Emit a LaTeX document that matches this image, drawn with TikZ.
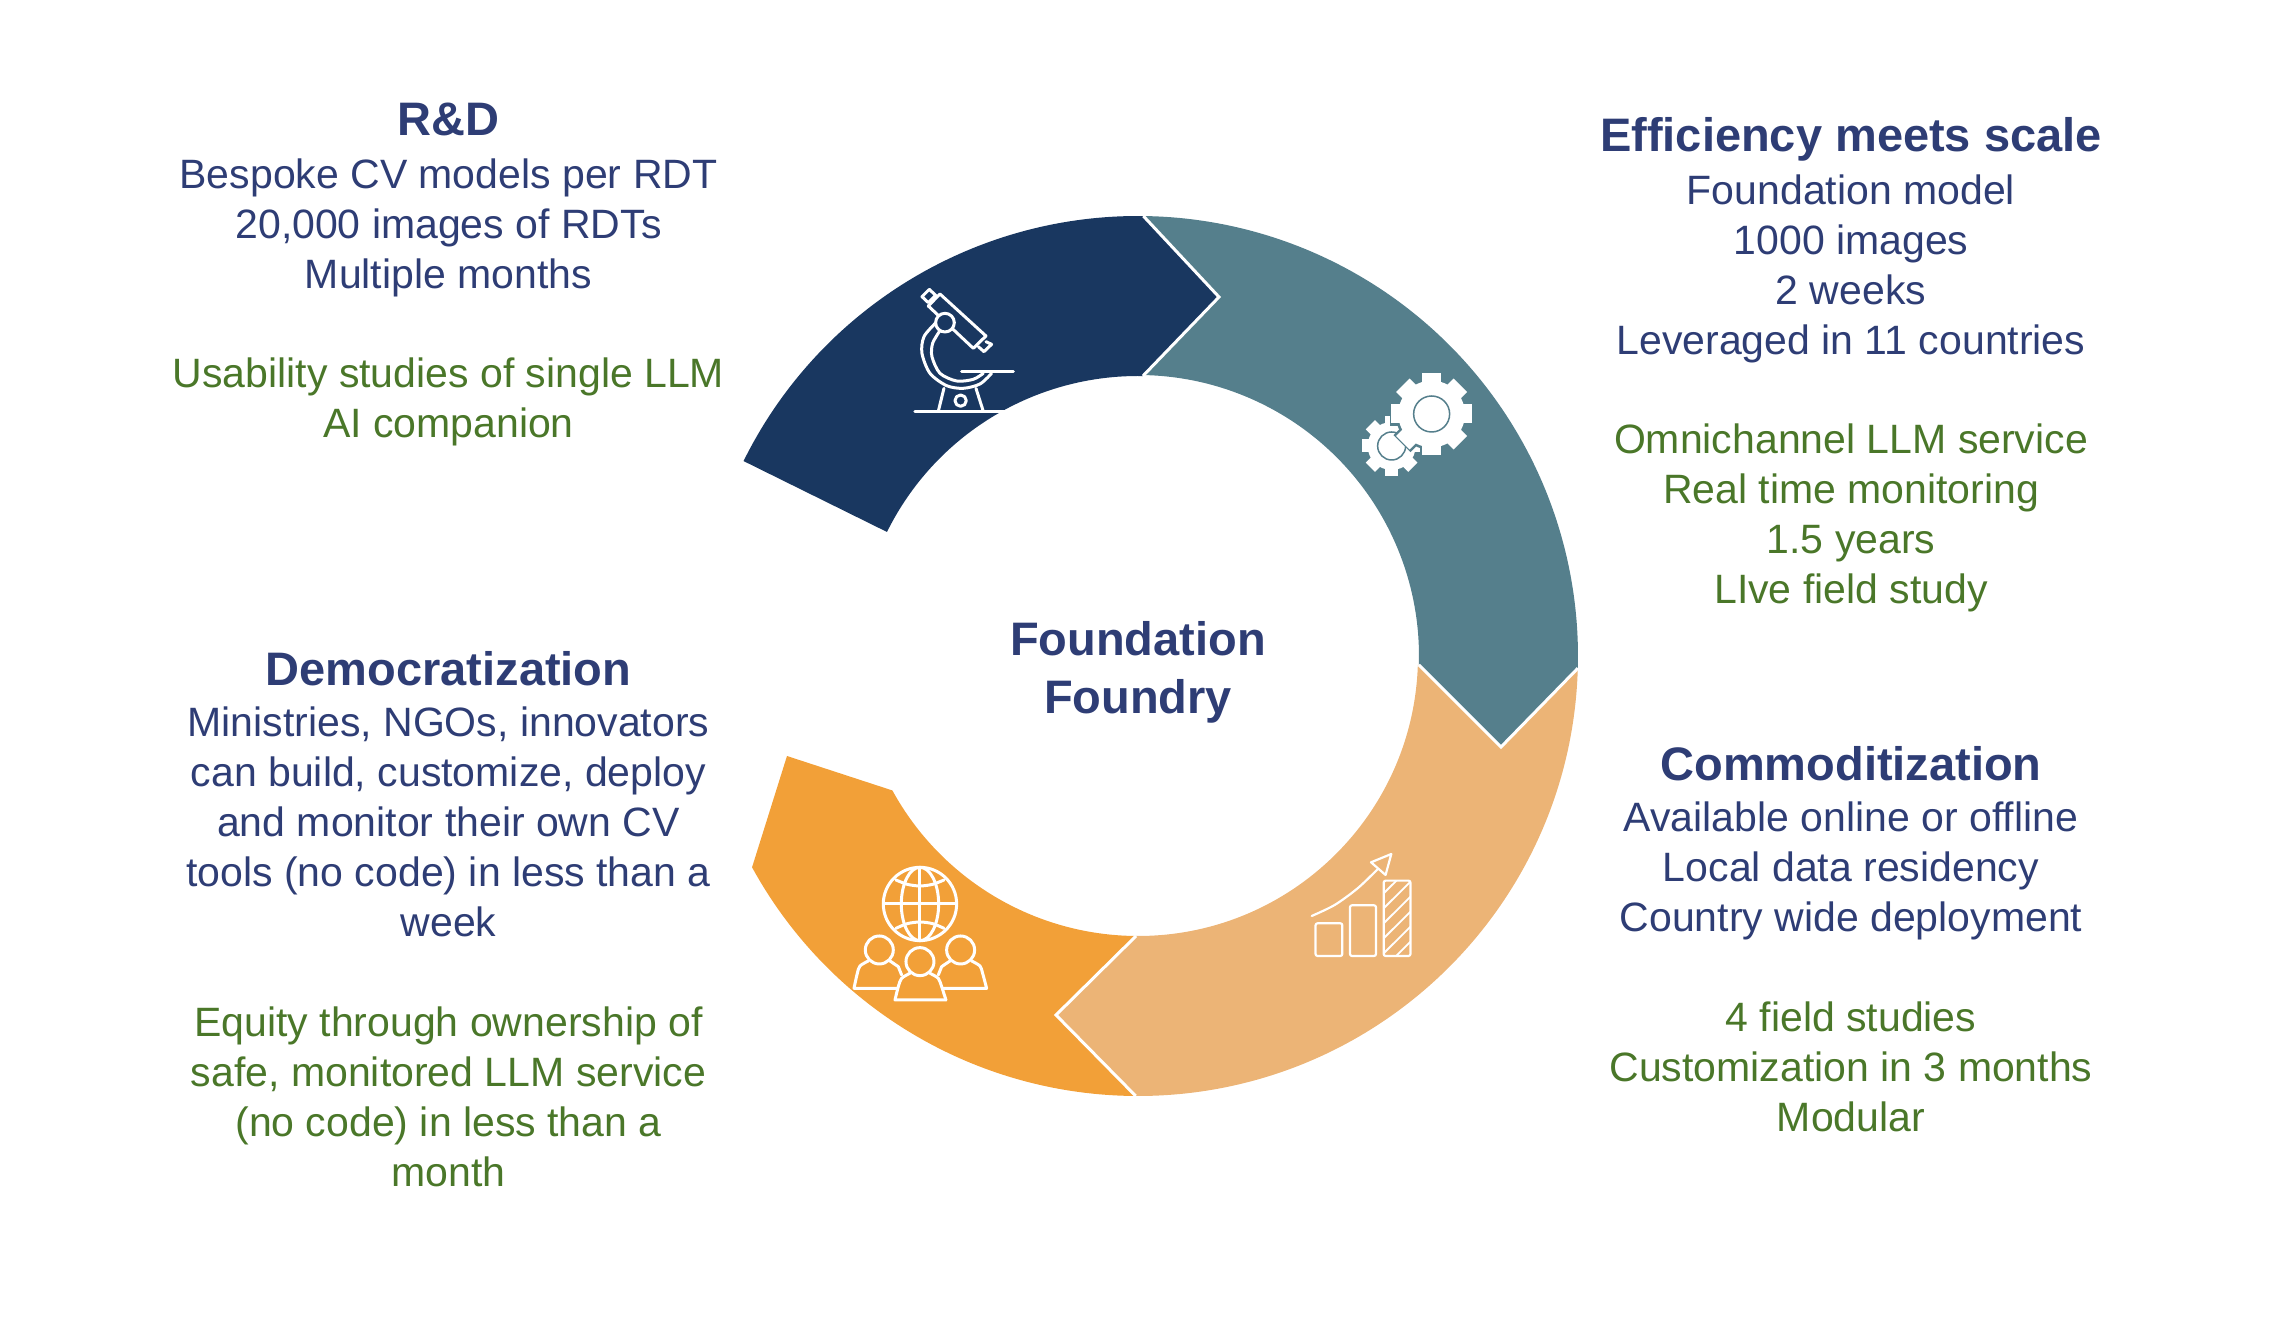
\documentclass[tikz,border=0pt]{standalone}
\usepackage{fontspec}
\setmainfont{Liberation Sans}
\definecolor{rdnavy}{HTML}{193760}
\definecolor{effteal}{HTML}{557F8C}
\definecolor{comsand}{HTML}{ECB476}
\definecolor{demorange}{HTML}{F2A038}
\definecolor{txtnavy}{HTML}{2E3D75}
\definecolor{txtgreen}{HTML}{4A7729}
\tikzset{
  headtxt/.style={font=\bfseries\fontsize{47}{58}\selectfont,text=txtnavy,align=center,inner sep=0pt},
  bodytxt/.style={font=\fontsize{41}{50}\selectfont,text=txtnavy,align=center,inner sep=0pt},
  resulttxt/.style={bodytxt,text=txtgreen},
  seam/.style={white,line width=3pt},
  iconline/.style={white,line width=3pt,line cap=round,line join=round},
}
\begin{document}
\begin{tikzpicture}[x=1pt,y=1pt]
  \useasboundingbox (-1138,-680) rectangle (1138,656);

  % ring
  \fill[rdnavy] (153.7:440) arc[start angle=153.7,end angle=89.3,radius=440pt] -- (81,359) -- (89:280)
    arc[start angle=89,end angle=153.7,radius=280pt] -- cycle;
  \fill[effteal] (89.3:440) arc[start angle=89.3,end angle=-1.6,radius=440pt] -- (363,-91) -- (-1.8:281)
    arc[start angle=-1.8,end angle=89,radius=281pt] -- (81,359) -- cycle;
  \fill[comsand] (-1.6:440) arc[start angle=-1.6,end angle=-90.3,radius=440pt] -- (-82,-359) -- (-90.4:280)
    arc[start angle=-90.4,end angle=-1.8,radius=280pt] -- (363,-91) -- cycle;
  \fill[demorange] (-90.3:440) arc[start angle=-90.3,end angle=-151.3,radius=440pt] -- (-351,-100) -- (-151.3:280)
    arc[start angle=-151.3,end angle=-90.4,radius=280pt] -- (-82,-359) -- cycle;
  \draw[seam] (89.3:440) -- (81,359) -- (89:280);
  \draw[seam] (-1.6:440) -- (363,-91) -- (-1.8:281);
  \draw[seam] (-90.3:440) -- (-82,-359) -- (-90.4:280);

  % microscope
  \begin{scope}[shift={(-418,456)},x=.3333pt,y=-.3333pt]
    \draw[iconline] (628,268) -- (606,290) -- (625,308) -- (647,286) -- cycle;
    \draw[iconline] (660,282) -- (798,408) -- (760,445) -- (625,318) -- cycle;
    \draw[iconline] (798,425) -- (815,433) -- (792,455) -- (775,440);
    \draw[iconline] plot[smooth] coordinates {(648,368) (612,410) (606,460) (630,520) (680,557) (730,565) (780,552) (815,520)};
    \draw[iconline] plot[smooth] coordinates {(660,392) (638,430) (636,470) (660,520) (710,543) (760,538) (790,520)};
    \fill[rdnavy] (675,368) circle (28);
    \draw[iconline] (675,368) circle (28);
    \draw[iconline] (725,515) -- (880,515);
    \draw[iconline] (672,565) -- (655,634);
    \draw[iconline] (768,565) -- (790,634);
    \draw[iconline] (585,636) -- (860,636);
    \draw[iconline] (722,602) circle (17);
  \end{scope}

  % gears
  \begin{scope}[shift={(112,316)},x=.3333pt,y=-.3333pt]
    \fill[white] (425,318) circle (72);
    \foreach \a in {0,45,...,315}{
      \draw[white,line width=13pt,line join=round] (425,318) -- ++(\a:90);
    }
    \draw[effteal,line width=1.5pt] (425,318) circle (42);
    \fill[effteal] (545,222) circle (108);
    \foreach \a in {0,45,...,315}{
      \draw[effteal,line width=24pt] (545,222) -- ++(\a:126);
    }
    \fill[white] (545,222) circle (100);
    \foreach \a in {0,45,...,315}{
      \draw[white,line width=19pt] (545,222) -- ++(\a:122);
    }
    \draw[effteal,line width=1.5pt] (545,222) circle (54);
  \end{scope}

  % chart
  \begin{scope}[shift={(-98,-4)},x=.3827pt,y=-.3333pt]
    \draw[iconline,line width=2.2pt,rounded corners=2pt] (720,790) rectangle (790,888);
    \draw[iconline,line width=2.2pt,rounded corners=2pt] (810,736) rectangle (878,888);
    \begin{scope}
      \clip (898,662) rectangle (968,888);
      \foreach \y in {700,745,...,960}{
        \draw[white,line width=1.8pt] (898,\y) -- (968,\y-80);
      }
    \end{scope}
    \draw[iconline,line width=2.2pt,rounded corners=2pt] (898,662) rectangle (968,888);
    \draw[iconline,line width=2.2pt] plot[smooth] coordinates {(710,768) (770,735) (830,685) (882,628)};
    \draw[iconline,line width=2.2pt] (865,607) -- (918,582) -- (903,645) -- cycle;
  \end{scope}

  % globe and people
  \begin{scope}[shift={(-408,-84)},x=.3333pt,y=-.3333pt]
    \draw[iconline] (570,492) circle (110);
    \draw[iconline] (570,492) ellipse (56 and 110);
    \draw[iconline] (570,382) -- (570,602);
    \draw[iconline] (460,492) -- (680,492);
    \draw[iconline] plot[smooth] coordinates {(498,420) (532,433) (570,438) (608,433) (642,420)};
    \draw[iconline] plot[smooth] coordinates {(498,565) (532,551) (570,546) (608,551) (642,565)};
    \draw[iconline] (448,630) circle (42);
    \draw[iconline] (692,630) circle (42);
    \draw[iconline] (570,665) circle (42);
    \draw[iconline] plot[smooth] coordinates {(415,663) (390,678) (382,700) (372,745)} -- (500,745);
    \draw[iconline] (480,663) -- (505,680) -- (515,705);
    \draw[iconline] plot[smooth] coordinates {(725,663) (750,678) (758,700) (770,745)} -- (640,745);
    \draw[iconline] (660,663) -- (635,680) -- (625,705);
    \draw[iconline] plot[smooth] coordinates {(540,700) (515,715) (505,740) (495,780)} -- (648,780);
    \draw[iconline] plot[smooth] coordinates {(600,700) (625,715) (635,740) (648,780)};
  \end{scope}

  % texts
  \node[headtxt] (foundry) at (0,-16) {Foundation\\Foundry};

  \node[headtxt] (rdhead) at (-689.5,537) {R\&D};
  \node[bodytxt] (rdbody) at (-689.5,428) {Bespoke CV models per RDT\\20,000 images of RDTs\\Multiple months};
  \node[resulttxt] (rdresult) at (-689.5,254) {Usability studies of single LLM\\AI companion};

  \node[headtxt] (effhead) at (713,517) {Efficiency meets scale};
  \node[bodytxt] (effbody) at (713,387) {Foundation model\\1000 images\\2 weeks\\Leveraged in 11 countries};
  \node[resulttxt] (effresult) at (713,138) {Omnichannel LLM service\\Real time monitoring\\1.5 years\\LIve field study};

  \node[headtxt] (comhead) at (713,-107.5) {Commoditization};
  \node[bodytxt] (combody) at (713,-215) {Available online or offline\\Local data residency\\Country wide deployment};
  \node[resulttxt] (comresult) at (713,-411) {4 field studies\\Customization in 3 months\\Modular};

  \node[headtxt] (demhead) at (-689.5,-13) {Democratization};
  \node[bodytxt] (dembody) at (-689.5,-166) {Ministries, NGOs, innovators\\can build, customize, deploy\\and monitor their own CV\\tools (no code) in less than a\\week};
  \node[resulttxt] (demresult) at (-689.5,-441) {Equity through ownership of\\safe, monitored LLM service\\(no code) in less than a\\month};
\end{tikzpicture}
\end{document}
